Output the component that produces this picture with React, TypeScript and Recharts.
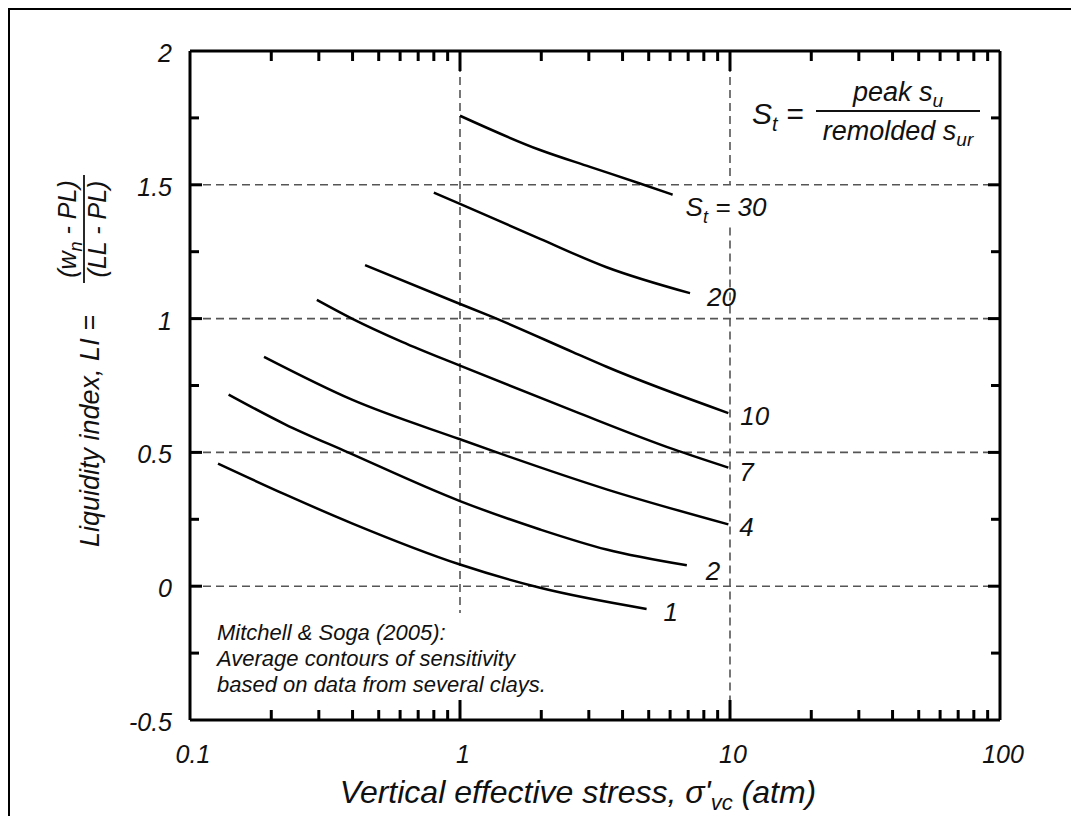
import type { ReactElement } from "react";
import { Line, LineChart, ReferenceLine, XAxis, YAxis } from "recharts";

// Sensitivity contours (Mitchell & Soga 2005)
const st1Stress = [0.127, 0.225, 0.398, 1.0, 1.98, 4.91];
const st1LI = [0.458, 0.343, 0.235, 0.081, -0.006, -0.085];
const st2Stress = [0.139, 0.225, 0.385, 1.0, 1.98, 3.49, 6.92];
const st2LI = [0.716, 0.605, 0.5, 0.318, 0.212, 0.137, 0.078];
const st4Stress = [0.188, 0.398, 1.0, 1.37, 3.49, 9.86];
const st4LI = [0.857, 0.697, 0.549, 0.5, 0.362, 0.231];
const st7Stress = [0.295, 0.398, 0.61, 1.0, 2.63, 6.16, 9.86];
const st7LI = [1.07, 1.0, 0.913, 0.824, 0.655, 0.512, 0.443];
const st10Stress = [0.445, 0.96, 1.29, 2.63, 3.49, 9.86];
const st10LI = [1.2, 1.062, 1.01, 0.874, 0.82, 0.647];
const st20Stress = [0.8, 1.0, 1.98, 3.49, 7.11];
const st20LI = [1.471, 1.429, 1.298, 1.192, 1.095];
const st30Stress = [1.0, 1.98, 3.03, 4.64, 6.13];
const st30LI = [1.758, 1.63, 1.567, 1.505, 1.463];

const xTicks = [
  0.1, 0.2, 0.3, 0.4, 0.5, 0.6, 0.7, 0.8, 0.9,
  1, 2, 3, 4, 5, 6, 7, 8, 9,
  10, 20, 30, 40, 50, 60, 70, 80, 90, 100,
];
const yTicks = [-0.5, -0.25, 0, 0.25, 0.5, 0.75, 1, 1.25, 1.5, 1.75, 2];
const gridLI = [1.5, 1, 0.5, 0];

const FONT = "'Liberation Sans', Arial, Helvetica, sans-serif";
const GRID = "#555";

// plot frame inside the svg
const W = 1063;
const H = 808;
const PL = 182;
const PR = 992;
const PT = 43;
const PB = 712;

type Pt = { x: number; y: number };
const toPts = (xs: number[], ys: number[]): Pt[] => xs.map((x, i) => ({ x, y: ys[i] }));

type Series = { key: string; data: Pt[]; label: string; dx: number; dy: number };
const series: Series[] = [
  { key: "st1", data: toPts(st1Stress, st1LI), label: "1", dx: 17, dy: 3 },
  { key: "st2", data: toPts(st2Stress, st2LI), label: "2", dx: 19, dy: 6 },
  { key: "st4", data: toPts(st4Stress, st4LI), label: "4", dx: 11, dy: 3 },
  { key: "st7", data: toPts(st7Stress, st7LI), label: "7", dx: 11, dy: 4 },
  { key: "st10", data: toPts(st10Stress, st10LI), label: "10", dx: 12, dy: 3 },
  { key: "st20", data: toPts(st20Stress, st20LI), label: "20", dx: 17, dy: 4 },
  { key: "st30", data: toPts(st30Stress, st30LI), label: "30", dx: 13, dy: 12 },
];

const isDecade = (v: number) => Math.abs(Math.log10(v) - Math.round(Math.log10(v))) < 1e-6;
const isHalf = (v: number) => Math.abs(v * 2 - Math.round(v * 2)) < 1e-6;

const textStyle = { fontFamily: FONT, fontStyle: "italic" as const, fill: "#111" };

function BottomTick(props: any): ReactElement {
  const { x, payload } = props;
  const v: number = payload.value;
  const major = isDecade(v);
  const edge = v === 0.1 || v === 100;
  return (
    <g>
      {!edge && (
        <line x1={x} x2={x} y1={PB} y2={PB - (major ? 20 : 10)} stroke="#000" strokeWidth={3} />
      )}
      {major && (
        <text x={x + 3} y={PB + 43} textAnchor="middle" fontSize={25} {...textStyle}>
          {String(v)}
        </text>
      )}
    </g>
  );
}

function TopTick(props: any): ReactElement {
  const { x, payload } = props;
  const v: number = payload.value;
  if (v === 0.1 || v === 100) return <g />;
  const major = isDecade(v);
  return <line x1={x} x2={x} y1={PT} y2={PT + (major ? 20 : 10)} stroke="#000" strokeWidth={3} />;
}

function LeftTick(props: any): ReactElement {
  const { y, payload } = props;
  const v: number = payload.value;
  const major = isHalf(v);
  const edge = v === 2 || v === -0.5;
  return (
    <g>
      {!edge && (
        <line x1={PL} x2={PL + (major ? 12 : 9)} y1={y} y2={y} stroke="#000" strokeWidth={3} />
      )}
      {major && (
        <text x={PL - 18} y={y + 11} textAnchor="end" fontSize={25} {...textStyle}>
          {String(v)}
        </text>
      )}
    </g>
  );
}

function RightTick(props: any): ReactElement {
  const { y, payload } = props;
  const v: number = payload.value;
  if (v === 2 || v === -0.5) return <g />;
  const major = isHalf(v);
  return <line x1={PR} x2={PR - (major ? 12 : 9)} y1={y} y2={y} stroke="#000" strokeWidth={3} />;
}

function endLabel(s: Series) {
  return (props: any): ReactElement | null => {
    const { x, y, index } = props;
    if (index !== s.data.length - 1) return null;
    const tx = x + s.dx;
    const ty = y + s.dy + 9;
    if (s.key === "st30") {
      return (
        <text x={tx} y={ty} fontSize={26} {...textStyle}>
          S
          <tspan dy={7} fontSize={18}>t</tspan>
          <tspan dy={-7}> = 30</tspan>
        </text>
      );
    }
    return (
      <text x={tx} y={ty} fontSize={26} {...textStyle}>
        {s.label}
      </text>
    );
  };
}

const axisLine = { stroke: "#000", strokeWidth: 3 };

export default function App(): ReactElement {
  return (
    <div style={{ position: "relative", width: W, height: H }}>
      <div
        style={{
          position: "absolute",
          left: -1,
          top: -1,
          width: 1066,
          height: 815,
          borderLeft: "3px solid #000",
          borderTop: "3px solid #000",
          boxSizing: "border-box",
        }}
      />
      <LineChart
        width={W}
        height={H}
        margin={{ top: PT - 1, right: W - PR - 1, bottom: H - PB - 1, left: PL - 1 }}
        style={{ position: "absolute", left: 0, top: 0 }}
      >
        <XAxis
          xAxisId="b"
          type="number"
          dataKey="x"
          scale="log"
          domain={[0.1, 100]}
          ticks={xTicks}
          interval={0}
          height={1}
          tickSize={0}
          tickMargin={0}
          tick={BottomTick}
          axisLine={axisLine}
          allowDataOverflow
        />
        <XAxis
          xAxisId="t"
          orientation="top"
          type="number"
          dataKey="x"
          scale="log"
          domain={[0.1, 100]}
          ticks={xTicks}
          interval={0}
          height={1}
          tickSize={0}
          tickMargin={0}
          tick={TopTick}
          axisLine={axisLine}
          allowDataOverflow
        />
        <YAxis
          yAxisId="l"
          type="number"
          domain={[-0.5, 2]}
          ticks={yTicks}
          interval={0}
          width={1}
          tickSize={0}
          tickMargin={0}
          tick={LeftTick}
          axisLine={axisLine}
          allowDataOverflow
        />
        <YAxis
          yAxisId="r"
          orientation="right"
          type="number"
          domain={[-0.5, 2]}
          ticks={yTicks}
          interval={0}
          width={1}
          tickSize={0}
          tickMargin={0}
          tick={RightTick}
          axisLine={axisLine}
          allowDataOverflow
        />
        {gridLI.map((v) => (
          <ReferenceLine
            key={`h${v}`}
            xAxisId="b"
            yAxisId="l"
            y={v}
            stroke={GRID}
            strokeWidth={1.6}
            strokeDasharray="8 5"
          />
        ))}
        <ReferenceLine
          xAxisId="b"
          yAxisId="l"
          segment={[{ x: 1, y: 2 }, { x: 1, y: -0.1 }]}
          stroke={GRID}
          strokeWidth={1.6}
          strokeDasharray="8 5"
        />
        <ReferenceLine
          xAxisId="b"
          yAxisId="l"
          segment={[{ x: 10, y: 2 }, { x: 10, y: 1.5 }]}
          stroke={GRID}
          strokeWidth={1.6}
          strokeDasharray="8 5"
        />
        <ReferenceLine
          xAxisId="b"
          yAxisId="l"
          segment={[{ x: 10, y: 1.34 }, { x: 10, y: -0.5 }]}
          stroke={GRID}
          strokeWidth={1.6}
          strokeDasharray="8 5"
        />
        {series.map((s) => (
          <Line
            key={s.key}
            xAxisId="b"
            yAxisId="l"
            data={s.data}
            dataKey="y"
            type="monotone"
            stroke="#000"
            strokeWidth={2.5}
            dot={false}
            activeDot={false}
            label={endLabel(s)}
            isAnimationActive={false}
          />
        ))}
      </LineChart>
      <svg
        width={W}
        height={H}
        style={{ position: "absolute", left: 0, top: 0, pointerEvents: "none" }}
      >
        {/* top-right definition of sensitivity */}
        <text x={744} y={116} fontSize={30} {...textStyle}>
          S<tspan dy={7} fontSize={20}>t</tspan>
          <tspan dy={-7}> =</tspan>
        </text>
        <line x1={808} x2={972} y1={103} y2={103} stroke="#111" strokeWidth={1.8} />
        <text x={890} y={93} textAnchor="middle" fontSize={27} {...textStyle}>
          peak s<tspan dy={6} fontSize={19}>u</tspan>
        </text>
        <text x={890} y={132} textAnchor="middle" fontSize={27} {...textStyle}>
          remolded s<tspan dy={6} fontSize={19}>ur</tspan>
        </text>

        {/* source note */}
        <text x={209} y={632} fontSize={22} {...textStyle}>
          Mitchell &amp; Soga (2005):
        </text>
        <text x={209} y={658} fontSize={22} {...textStyle}>
          Average contours of sensitivity
        </text>
        <text x={209} y={684} fontSize={22} {...textStyle}>
          based on data from several clays.
        </text>

        {/* x-axis title */}
        <text x={570} y={795} textAnchor="middle" fontSize={32} {...textStyle}>
          Vertical effective stress, σ'<tspan dy={7} fontSize={22}>vc</tspan>
          <tspan dy={-7}> (atm)</tspan>
        </text>

        {/* y-axis title */}
        <g transform="translate(91, 539) rotate(-90)">
          <text x={0} y={0} fontSize={27} {...textStyle}>
            Liquidity index, LI =
          </text>
        </g>
        <g transform="translate(76, 221) rotate(-90)">
          <text x={0} y={-8} textAnchor="middle" fontSize={25} {...textStyle}>
            (w<tspan dy={6} fontSize={18}>n</tspan>
            <tspan dy={-6}> - PL)</tspan>
          </text>
          <line x1={-54} x2={54} y1={0} y2={0} stroke="#111" strokeWidth={1.8} />
          <text x={0} y={22} textAnchor="middle" fontSize={25} {...textStyle}>
            (LL - PL)
          </text>
        </g>
      </svg>
    </div>
  );
}
